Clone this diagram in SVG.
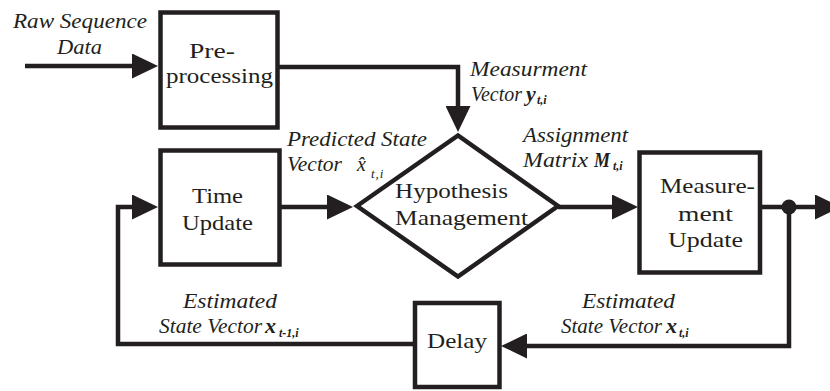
<svg xmlns="http://www.w3.org/2000/svg" width="830" height="391" viewBox="0 0 830 391">
<defs>
<marker id="ah" markerUnits="userSpaceOnUse" markerWidth="26" markerHeight="25" viewBox="0 0 26 25" refX="0" refY="12.5" orient="auto"><path d="M0,0 L26,12.5 L0,25 z" fill="#231f20"/></marker>
<style>
.box{fill:#fff;stroke:#231f20;stroke-width:4.5}
.ln{fill:none;stroke:#231f20;stroke-width:4.5;marker-end:url(#ah)}
.bt{font-family:"Liberation Serif","Times New Roman",serif;font-size:22px;fill:#231f20}
.lb{font-family:"Liberation Serif","Times New Roman",serif;font-size:20px;font-style:italic;fill:#231f20}
.mb{font-family:"Liberation Serif","Times New Roman",serif;font-size:22px;font-style:italic;font-weight:bold;fill:#231f20}
.sb{font-family:"Liberation Serif","Times New Roman",serif;font-size:12px;font-style:italic;font-weight:bold;fill:#231f20}
.si{font-family:"Liberation Serif","Times New Roman",serif;font-size:13px;font-style:italic;fill:#231f20}
</style>
</defs>
<g id="connectors">
<path class="ln" d="M25,66 H132"/>
<path class="ln" d="M277.5,67 H458 V106"/>
<path class="ln" d="M280,207 H327"/>
<path class="ln" d="M558,207 H612"/>
<path class="ln" d="M760,207 H815"/>
<path class="ln" d="M789,207 V346 H527"/>
<path class="ln" d="M415,344 H118 V207 H132"/>
<circle cx="789" cy="207" r="7.5" fill="#231f20"/>
</g>
<g id="preprocessing">
<rect class="box" x="160.5" y="12.5" width="117" height="115"/>
<text class="bt" x="212" y="58" text-anchor="middle" textLength="46" lengthAdjust="spacingAndGlyphs">Pre-</text>
<text class="bt" x="166" y="83" textLength="107" lengthAdjust="spacingAndGlyphs">processing</text>
</g>
<g id="time-update">
<rect class="box" x="160.5" y="150.5" width="119" height="114"/>
<text class="bt" x="192" y="203" textLength="51" lengthAdjust="spacingAndGlyphs">Time</text>
<text class="bt" x="182" y="230" textLength="71" lengthAdjust="spacingAndGlyphs">Update</text>
</g>
<g id="hypothesis-management">
<polygon class="box" points="357,206 458,135.5 558,206 458,276.5" style="stroke-linejoin:miter"/>
<text class="bt" x="395" y="198" textLength="113" lengthAdjust="spacingAndGlyphs">Hypothesis</text>
<text class="bt" x="395" y="225" textLength="133" lengthAdjust="spacingAndGlyphs">Management</text>
</g>
<g id="measurement-update">
<rect class="box" x="639.5" y="152.5" width="120.5" height="120"/>
<text class="bt" x="660" y="193" textLength="95" lengthAdjust="spacingAndGlyphs">Measure-</text>
<text class="bt" x="678" y="221" textLength="55" lengthAdjust="spacingAndGlyphs">ment</text>
<text class="bt" x="668" y="247" textLength="75" lengthAdjust="spacingAndGlyphs">Update</text>
</g>
<g id="delay">
<rect class="box" x="415" y="303" width="84.5" height="84"/>
<text class="bt" x="427" y="348" textLength="60" lengthAdjust="spacingAndGlyphs">Delay</text>
</g>
<g id="labels">
<text class="lb" x="13" y="28" textLength="134" lengthAdjust="spacingAndGlyphs">Raw Sequence</text>
<text class="lb" x="57" y="54" textLength="45" lengthAdjust="spacingAndGlyphs">Data</text>
<text class="lb" x="470" y="76" textLength="117" lengthAdjust="spacingAndGlyphs">Measurment</text>
<text class="lb" x="471" y="101" textLength="51" lengthAdjust="spacingAndGlyphs">Vector</text>
<text class="mb" x="526" y="101">y</text>
<text class="sb" x="537" y="104">t,i</text>
<text class="lb" x="287" y="146" textLength="140" lengthAdjust="spacingAndGlyphs">Predicted State</text>
<text class="lb" x="287" y="171" textLength="55" lengthAdjust="spacingAndGlyphs">Vector</text>
<text class="lb" x="357" y="171" font-size="22">x&#x302;</text>
<text class="si" x="371" y="178" letter-spacing="1">t,i</text>
<text class="lb" x="523" y="142" textLength="105" lengthAdjust="spacingAndGlyphs">Assignment</text>
<text class="lb" x="523" y="167" textLength="65" lengthAdjust="spacingAndGlyphs">Matrix</text>
<text class="mb" x="594" y="167" textLength="16" lengthAdjust="spacingAndGlyphs">M</text>
<text class="sb" x="613" y="170">t,i</text>
<text class="lb" x="183" y="308" textLength="94" lengthAdjust="spacingAndGlyphs">Estimated</text>
<text class="lb" x="159" y="333" textLength="103" lengthAdjust="spacingAndGlyphs">State Vector</text>
<text class="mb" x="265" y="333">x</text>
<text class="sb" x="279" y="337">t-1,i</text>
<text class="lb" x="582" y="308" textLength="93" lengthAdjust="spacingAndGlyphs">Estimated</text>
<text class="lb" x="561" y="333" textLength="101" lengthAdjust="spacingAndGlyphs">State Vector</text>
<text class="mb" x="666" y="333">x</text>
<text class="sb" x="679" y="337">t,i</text>
</g>
</svg>
